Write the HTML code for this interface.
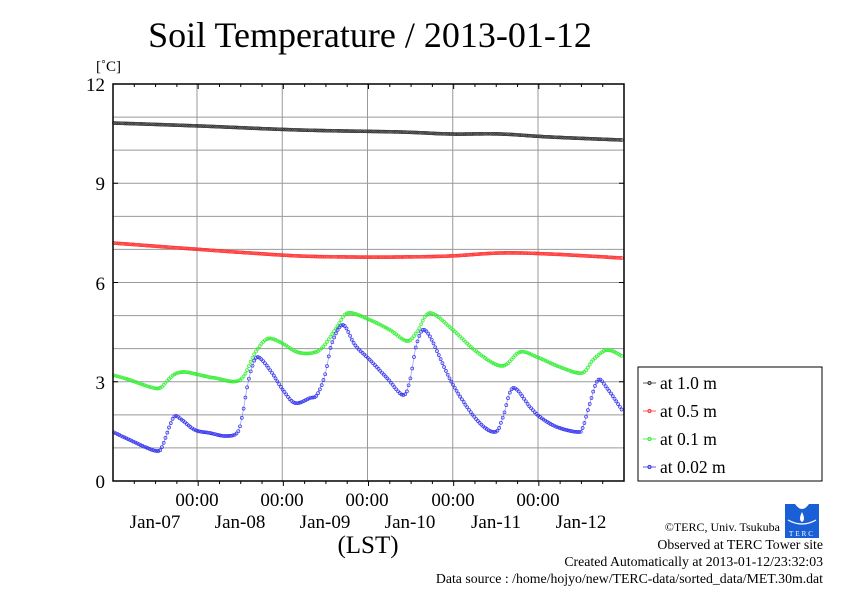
<!DOCTYPE html>
<html><head><meta charset="utf-8"><style>
html,body{margin:0;padding:0;background:#fff;}
svg text{font-family:"Liberation Serif",serif;fill:#000;}
</style></head><body>
<svg id="s" width="842" height="595" xmlns="http://www.w3.org/2000/svg">
<text x="370" y="47" font-size="36" text-anchor="middle">Soil Temperature / 2013-01-12</text>
<text x="96" y="71" font-size="15">[˚C]</text>
<g font-size="19" text-anchor="end">
<text x="105" y="91">12</text><text x="105" y="190">9</text><text x="105" y="290">6</text><text x="105" y="389">3</text><text x="105" y="488">0</text>
</g>
<g font-size="19" text-anchor="middle">
<text x="197" y="506">00:00</text><text x="282" y="506">00:00</text><text x="367" y="506">00:00</text><text x="453" y="506">00:00</text><text x="538" y="506">00:00</text>
<text x="155" y="528">Jan-07</text><text x="240" y="528">Jan-08</text><text x="325" y="528">Jan-09</text><text x="410" y="528">Jan-10</text><text x="496" y="528">Jan-11</text><text x="581" y="528">Jan-12</text>
</g>
<text x="368" y="553" font-size="25" text-anchor="middle">(LST)</text>
<g id="grid"></g>
<g id="data"></g>
<rect x="113" y="84" width="511" height="397" fill="none" stroke="#000" stroke-width="1.5"/>
<rect x="638" y="367" width="184" height="114" fill="#fff" stroke="#000" stroke-width="1"/>
<g font-size="17.5">
<text x="660" y="389">at 1.0 m</text><text x="660" y="417">at 0.5 m</text><text x="660" y="445">at 0.1 m</text><text x="660" y="473">at 0.02 m</text>
</g>
<g id="leg"></g>
<g font-size="13.8" text-anchor="end">
<text x="780" y="531" font-size="12">©TERC, Univ. Tsukuba</text>
<text x="823" y="549">Observed at TERC Tower site</text>
<text x="823" y="566">Created Automatically at 2013-01-12/23:32:03</text>
<text x="823" y="583">Data source : /home/hojyo/new/TERC-data/sorted_data/MET.30m.dat</text>
</g>
<g>
<rect x="785" y="504" width="34" height="34" fill="#1a5fd6"/>
<path d="M795 504 Q802 514 809 504 Z" fill="#fff"/>
<path d="M802 512 Q798 520 802 522 Q806 520 802 512Z" fill="#fff"/>
<path d="M788 520 Q802 528 816 520" stroke="#fff" fill="none" stroke-width="1.2"/>
<text x="802" y="536" font-size="7" text-anchor="middle" style="fill:#fff;letter-spacing:2px">TERC</text>
</g>
</svg>
<script>
var NS="http://www.w3.org/2000/svg";
function el(p,t,a){var e=document.createElementNS(NS,t);for(var k in a)e.setAttribute(k,a[k]);p.appendChild(e);return e;}
var g=document.getElementById('grid');
for(var i=1;i<12;i++){var y=84+i*397/12;el(g,'line',{x1:113,x2:624,y1:y,y2:y,stroke:'#999','stroke-width':1});
if(i%3==0){el(g,'line',{x1:113,x2:118,y1:y,y2:y,stroke:'#000'});el(g,'line',{x1:619,x2:624,y1:y,y2:y,stroke:'#000'});}}
for(var d=0;d<5;d++){var x=197+d*85.25;el(g,'line',{x1:x,x2:x,y1:84,y2:481,stroke:'#999'});}
for(var j=1;j<24;j++){var x=113+j*511/24;var big=(j%4==0);
el(g,'line',{x1:x,x2:x,y1:481,y2:481+(big?5:3),stroke:'#000'});el(g,'line',{x1:x,x2:x,y1:84,y2:84+(big?5:3),stroke:'#000'});}
var S={
k:[[113,123],[200,126],[300,130],[400,132],[450,134],[500,134],[550,137],[622,140]],
r:[[113,243],[180,248],[250,253],[300,256],[350,257],[400,257],[450,256],[500,253],[550,254],[622,258]],
g:[[113,375],[130,380],[150,387],[160,388],[167,381],[175,374],[185,372],[200,375],[215,378],[240,380],[255,353],[267,339],[280,342],[297,352],[312,353],[323,347],[337,327],[348,313],[370,320],[390,330],[407,341],[417,332],[430,313],[453,330],[477,352],[502,366],[520,352],[537,357],[560,367],[582,373],[593,360],[607,350],[622,356]],
b:[[113,432],[130,440],[145,447],[157,451],[162,447],[170,425],[175,416],[182,420],[195,430],[210,433],[225,436],[237,433],[242,417],[247,388],[252,367],[258,357],[270,370],[283,390],[295,403],[310,398],[317,395],[325,375],[332,343],[343,325],[355,345],[370,360],[387,378],[403,395],[410,380],[417,343],[427,332],[452,383],[477,420],[495,432],[503,417],[513,388],[530,407],[540,417],[557,427],[578,432],[583,427],[590,403],[598,380],[607,388],[622,410]]};
var C={k:'#333',r:'#ff3030',g:'#33ee33',b:'#3333ee'};
var dg=document.getElementById('data');
function smooth(p){var o=[];for(var i=0;i<p.length-1;i++){var p0=p[Math.max(0,i-1)],p1=p[i],p2=p[i+1],p3=p[Math.min(p.length-1,i+2)];
for(var t=0;t<1;t+=0.05){var t2=t*t,t3=t2*t;function f(a,b,c,d){return 0.5*((2*b)+(-a+c)*t+(2*a-5*b+4*c-d)*t2+(-a+3*b-3*c+d)*t3);}
o.push([f(p0[0],p1[0],p2[0],p3[0]),f(p0[1],p1[1],p2[1],p3[1])]);}}o.push(p[p.length-1]);return o;}
function interp(p,x){for(var i=0;i<p.length-1;i++){if(x<=p[i+1][0]){var dx=p[i+1][0]-p[i][0];var t=dx>0?(x-p[i][0])/dx:0;return p[i][1]+t*(p[i+1][1]-p[i][1]);}}return p[p.length-1][1];}
for(var key in S){var p=smooth(S[key]),pts=[];for(var x=114;x<=622;x+=1.775){pts.push(x.toFixed(1)+','+interp(p,x).toFixed(1));}
el(dg,'polyline',{points:pts.join(' '),fill:'none',stroke:C[key],'stroke-width':0.7,'stroke-opacity':0.5});
pts.forEach(function(q){var a=q.split(',');el(dg,'circle',{cx:a[0],cy:a[1],r:1.5,fill:'none',stroke:C[key],'stroke-width':0.7});});}
var lg=document.getElementById('leg');var ys=[383,411,439,467],ks=['k','r','g','b'];
for(var i=0;i<4;i++){el(lg,'line',{x1:643,x2:656,y1:ys[i],y2:ys[i],stroke:C[ks[i]],'stroke-width':0.8});el(lg,'circle',{cx:649.5,cy:ys[i],r:1.6,fill:'none',stroke:C[ks[i]]});}
</script>
</body></html>
